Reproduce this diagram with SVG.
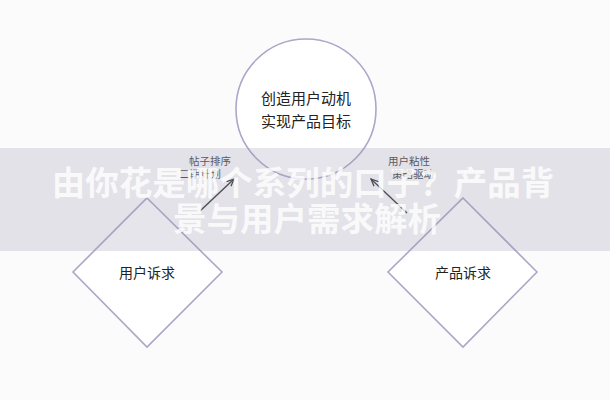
<svg xmlns="http://www.w3.org/2000/svg" width="610" height="400" viewBox="0 0 610 400">
<defs>
<marker id="arr" viewBox="0 0 10 10" refX="9" refY="5" markerWidth="8" markerHeight="8" orient="auto-start-reverse" markerUnits="userSpaceOnUse">
<path d="M0,1 L9,5 L0,9" fill="none" stroke="#333" stroke-width="1.6"/>
</marker>
</defs>
<style>
.shape{fill:#ffffff;stroke:#aaa7c8;stroke-width:1.6}
.t{font-family:"Noto Sans CJK SC","Noto Sans",sans-serif;fill:#222;text-anchor:middle}
.lbl{font-family:"Noto Sans CJK SC","Noto Sans",sans-serif;fill:#444;font-size:10.5px;text-anchor:middle}
.wm{font-family:"Noto Sans CJK SC","Noto Sans",sans-serif;font-weight:700;font-size:33.5px;fill:#ffffff;text-anchor:middle}
.conn{stroke:#333;stroke-width:1.3;fill:none}
</style>
<rect width="610" height="400" fill="#fbfbfc"/>
<g id="node-center">
<circle class="shape" cx="306" cy="109" r="70"/>
<text class="t" x="306" y="104" font-size="15">创造用户动机</text>
<text class="t" x="306" y="127" font-size="15">实现产品目标</text>
</g>
<g id="node-user">
<polygon class="shape" points="147,198 222,272 147,347 73,272"/>
<text class="t" x="147" y="278" font-size="14">用户诉求</text>
</g>
<g id="node-product">
<polygon class="shape" points="463,198 537,272 463,347 388,272"/>
<text class="t" x="463" y="278" font-size="14">产品诉求</text>
</g>
<g id="connectors">
<line class="conn" x1="200" y1="211" x2="234" y2="179" marker-end="url(#arr)"/>
<line class="conn" x1="407" y1="213" x2="371" y2="179" marker-end="url(#arr)"/>
<text class="lbl" x="210" y="165">帖子排序</text>
<text class="lbl" x="200" y="178">二期计划</text>
<text class="lbl" x="409" y="165">用户粘性</text>
<text class="lbl" x="413" y="178">策略驱动</text>
</g>
<g id="watermark">
<rect x="0" y="148" width="610" height="103" fill="#9d97ae" opacity="0.25"/>
<text class="wm" x="303" y="195" opacity="0.8">由你花是哪个系列的口子？产品背</text>
<text class="wm" x="307" y="231" opacity="0.8">景与用户需求解析</text>
</g>
</svg>
